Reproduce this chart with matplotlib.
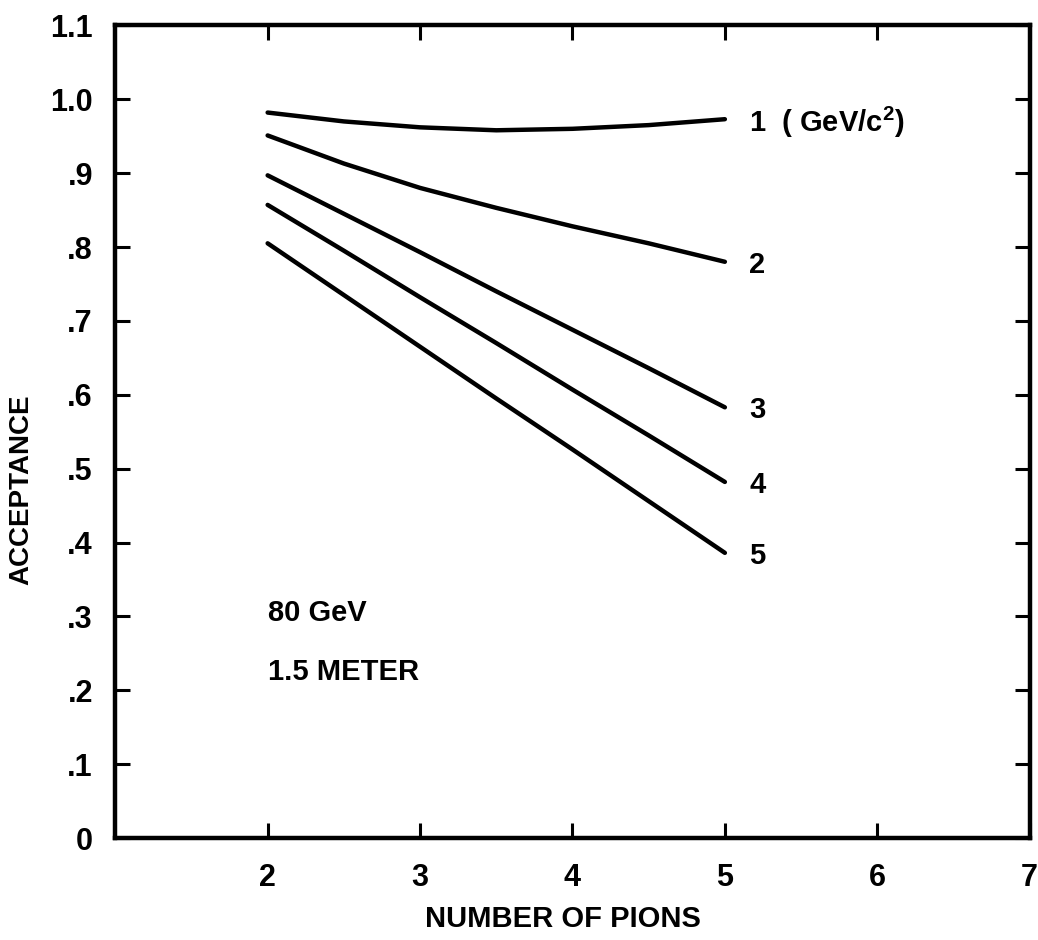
import numpy as np
import matplotlib.pyplot as plt

# acceptance vs number of pions, one curve per mass bin (GeV/c^2)
n_pions = [2.0, 2.5, 3.0, 3.5, 4.0, 4.5, 5.0]
acc_m1 = [0.982, 0.970, 0.962, 0.958, 0.960, 0.965, 0.973]
acc_m2 = [0.951, 0.913, 0.880, 0.853, 0.828, 0.805, 0.780]
acc_m3 = [0.897, 0.845, 0.793, 0.740, 0.688, 0.636, 0.583]
acc_m4 = [0.857, 0.795, 0.732, 0.670, 0.607, 0.545, 0.482]
acc_m5 = [0.805, 0.735, 0.665, 0.595, 0.526, 0.456, 0.386]
curves = [acc_m1, acc_m2, acc_m3, acc_m4, acc_m5]
curve_labels = ["1  ( GeV/c$^{\\mathbf{2}}$)", "2", "3", "4", "5"]

x_ticks = [2, 3, 4, 5, 6, 7]
y_ticks = [0, 0.1, 0.2, 0.3, 0.4, 0.5, 0.6, 0.7, 0.8, 0.9, 1.0, 1.1]
y_tick_labels = ["0", ".1", ".2", ".3", ".4", ".5", ".6", ".7", ".8", ".9", "1.0", "1.1"]

plt.rcParams['font.family'] = ['Liberation Sans', 'DejaVu Sans']
plt.rcParams['font.weight'] = 'bold'
plt.rcParams['mathtext.fontset'] = 'custom'
plt.rcParams['mathtext.bf'] = 'Liberation Sans:bold'
plt.rcParams['mathtext.rm'] = 'Liberation Sans:bold'

fig = plt.figure(figsize=(10.38, 9.4), dpi=100)
ax = fig.add_axes([0.111, 0.1085, 0.881, 0.8645])

for acc, lab in zip(curves, curve_labels):
    ax.plot(n_pions, acc, color="black", lw=3.2, solid_capstyle="round")
    ax.text(n_pions[-1] + 0.16, acc[-1] - 0.004, lab, fontsize=21,
            fontweight="bold", ha="left", va="center")

ax.text(2.0, 0.304, "80 GeV", fontsize=21, fontweight="bold", va="center")
ax.text(2.0, 0.225, "1.5 METER", fontsize=21, fontweight="bold", va="center")

ax.set_xlim(1, 7)
ax.set_ylim(0, 1.1)
ax.set_xticks(x_ticks)
ax.set_xticklabels([str(t) for t in x_ticks])
ax.set_yticks(y_ticks)
ax.set_yticklabels(y_tick_labels)

ax.tick_params(axis="both", which="major", direction="in", length=11, width=2.2,
               labelsize=22, top=True, right=True)
ax.tick_params(axis="x", pad=18)
ax.tick_params(axis="y", pad=16)
for lbl in ax.get_xticklabels() + ax.get_yticklabels():
    lbl.set_fontweight("bold")

for sp in ax.spines.values():
    sp.set_linewidth(3.2)

ax.set_xlabel("NUMBER OF PIONS", fontsize=21, fontweight="bold")
ax.xaxis.set_label_coords(0.49, -0.082)
ax.set_ylabel("ACCEPTANCE", fontsize=20, fontweight="bold")
ax.yaxis.set_label_coords(-0.088, 0.428)

fig.savefig("out.png", dpi=100, facecolor="white")
